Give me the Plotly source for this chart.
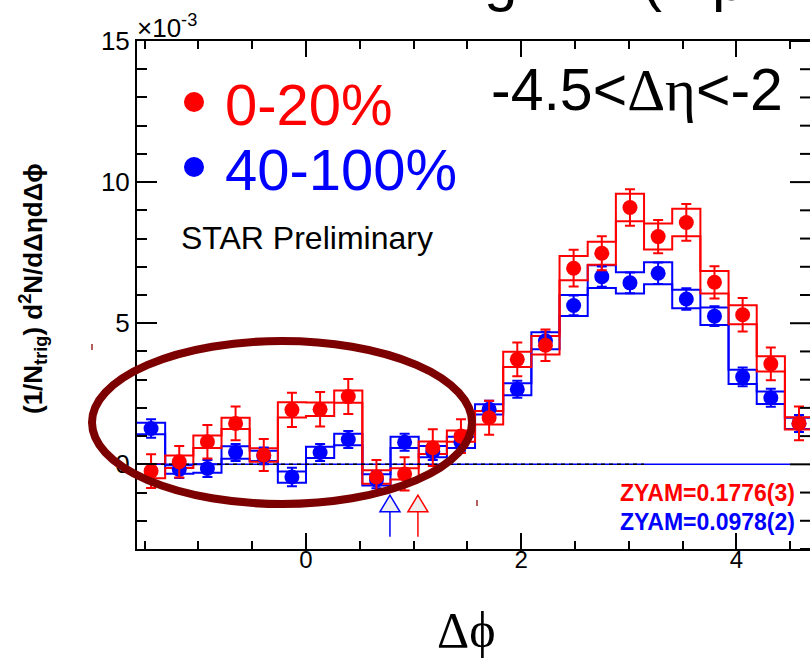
import numpy as np
import plotly.graph_objects as go

# Δφ binning: 24 bins spanning [-π/2, 3π/2]
n_bins = 24
phi_lo, phi_hi = -np.pi / 2, 3 * np.pi / 2
bin_w = (phi_hi - phi_lo) / n_bins
edges = phi_lo + bin_w * np.arange(n_bins + 1)
centers = 0.5 * (edges[:-1] + edges[1:])

# per-trigger associated yield (units of 1e-3), -4.5 < Δη < -2
central_label = "0-20%"
central_y = [-0.24, 0.09, 0.80, 1.45, 0.33, 1.93, 1.95, 2.40, -0.45, -0.34, 0.59, 1.00,
             1.65, 3.72, 4.22, 6.95, 7.48, 9.10, 8.07, 8.57, 6.45, 5.30, 3.56, 1.45]
central_stat = [0.60, 0.56, 0.59, 0.60, 0.57, 0.61, 0.61, 0.62, 0.60, 0.59, 0.65, 0.60,
                0.60, 0.60, 0.56, 0.65, 0.60, 0.65, 0.59, 0.65, 0.57, 0.59, 0.58, 0.60]
central_sys = [0.25, 0.22, 0.22, 0.20, 0.24, 0.27, 0.24, 0.22, 0.24, 0.20, 0.22, 0.20,
               0.24, 0.27, 0.33, 0.43, 0.41, 0.49, 0.46, 0.49, 0.40, 0.34, 0.27, 0.22]

periph_label = "40-100%"
periph_y = [1.27, -0.18, -0.15, 0.42, 0.30, -0.45, 0.42, 0.88, -0.55, 0.78, 0.45, 0.78,
            1.95, 2.66, 4.38, 5.63, 6.65, 6.43, 6.77, 5.86, 5.25, 3.10, 2.36, 1.45]
periph_stat = [0.33, 0.30, 0.30, 0.30, 0.30, 0.33, 0.30, 0.30, 0.30, 0.30, 0.30, 0.30,
               0.30, 0.30, 0.32, 0.35, 0.36, 0.37, 0.38, 0.38, 0.35, 0.33, 0.32, 0.30]
periph_sys = [0.20, 0.15, 0.15, 0.22, 0.18, 0.20, 0.20, 0.20, 0.20, 0.20, 0.20, 0.20,
              0.18, 0.21, 0.30, 0.37, 0.40, 0.38, 0.39, 0.33, 0.31, 0.25, 0.22, 0.20]

zyam_text = ["ZYAM=0.1776(3)", "ZYAM=0.0978(2)"]
# ZYAM minimum positions (peripheral, central)
zyam_arrow_x = [0.78, 1.04]

y_lo, y_hi = -3, 15
RED, BLUE = "#ff0000", "#0000ff"
SANS = "Liberation Sans, Arial, sans-serif"
SERIF = "Liberation Serif, Times New Roman, serif"

W, H = 810, 658
L, R, T, B = 137, 0, 41, 109
px_per_unit = 107.6
plot_w = W - L - R


def px(xp):
    return (xp - L) / plot_w


def py(yp):
    return (H - B - yp) / (H - T - B)


def step_outline(vals):
    """Histogram-style outline through bin edges."""
    return list(edges), list(vals) + [vals[-1]]


fig = go.Figure()

# systematic bands: upper and lower histogram outlines
for y, s, c in [(periph_y, periph_sys, BLUE), (central_y, central_sys, RED)]:
    for sign in (1, -1):
        band = [v + sign * d for v, d in zip(y, s)]
        sx, sy = step_outline(band)
        fig.add_trace(go.Scatter(x=sx, y=sy, mode="lines", line_shape="hv",
                                 line=dict(color=c, width=2), hoverinfo="skip"))

# zero reference lines
fig.add_trace(go.Scatter(x=[phi_lo, 4.5], y=[0, 0], mode="lines",
                         line=dict(color=BLUE, width=1.5), hoverinfo="skip"))
fig.add_trace(go.Scatter(x=[phi_lo, np.pi], y=[0, 0], mode="lines",
                         line=dict(color="black", width=1.5, dash="4px,4px"), hoverinfo="skip"))

# data points with statistical errors
for y, e, c, name in [(periph_y, periph_stat, BLUE, periph_label),
                      (central_y, central_stat, RED, central_label)]:
    fig.add_trace(go.Scatter(
        x=centers, y=y, mode="markers", name=name,
        marker=dict(color=c, size=15, symbol="circle"),
        error_y=dict(type="data", array=e, visible=True, color=c, thickness=2, width=5),
    ))

shapes = []
# right-hand frame ticks (the frame edge itself lies just outside the canvas)
for v in range(y_lo, y_hi + 1):
    tl = 20 if v % 5 == 0 else 10
    shapes.append(dict(type="line", xref="paper", yref="y", x0=1 - tl / plot_w, x1=1,
                       y0=v, y1=v, line=dict(color="black", width=2)))

# ZYAM arrows
for xa, c in zip(zyam_arrow_x, [BLUE, RED]):
    hw = 10 / px_per_unit
    shapes.append(dict(type="path", xref="x", yref="y",
                       path=f"M {xa},-1.09 L {xa - hw},-1.68 L {xa + hw},-1.68 Z",
                       fillcolor="#eeeeee", line=dict(color=c, width=1.5), layer="above"))
    shapes.append(dict(type="line", xref="x", yref="y", x0=xa, x1=xa, y0=-1.68, y1=-2.57,
                       line=dict(color=c, width=1.5), layer="above"))

# highlighted near-side region
shapes.append(dict(type="circle", xref="paper", yref="paper",
                   x0=px(92), x1=px(472), y0=py(504), y1=py(341),
                   line=dict(color="#7d0000", width=8), layer="above"))
for xp_, yp_ in [(92, 347), (477, 503)]:
    shapes.append(dict(type="line", xref="paper", yref="paper",
                       x0=px(xp_), x1=px(xp_), y0=py(yp_ - 3), y1=py(yp_ + 3),
                       line=dict(color="#9a2a2a", width=1.5), layer="above"))

ann = []


def text(x, y, s, size, color="black", family=SANS, xanchor="left", yanchor="middle", **kw):
    ann.append(dict(x=px(x), y=py(y), xref="paper", yref="paper", text=s, showarrow=False,
                    xanchor=xanchor, yanchor=yanchor,
                    font=dict(family=family, size=size, color=color), **kw))


# slide heading running off the top edge
for xc, glyph in [(500, "g"), (652, "("), (728, "p")]:
    text(xc, -21, glyph, 60, xanchor="center")

# legend
shapes.append(dict(type="circle", xref="paper", yref="paper", x0=px(184), x1=px(204),
                   y0=py(112), y1=py(92), fillcolor=RED, line=dict(width=0)))
shapes.append(dict(type="circle", xref="paper", yref="paper", x0=px(184), x1=px(204),
                   y0=py(177), y1=py(157), fillcolor=BLUE, line=dict(width=0)))
text(223, 104, central_label, 58, RED)
text(223, 169, periph_label, 58, BLUE)
text(179, 238, "STAR Preliminary", 32)
text(489, 90, "-4.5<<span style='font-family:Liberation Serif'>Δη</span><-2", 59)
text(797, 493, f"<b>{zyam_text[0]}</b>", 23, RED, xanchor="right")
text(797, 522, f"<b>{zyam_text[1]}</b>", 23, BLUE, xanchor="right")
text(135, 26, "×10<sup>-3</sup>", 26)
text(33, 289, "<b>(1/N<sub>trig</sub>) d<sup>2</sup>N/dΔηdΔϕ</b>", 26, xanchor="center",
     textangle=-90)
text(466, 630, "Δϕ", 50, family=SERIF, xanchor="center")

fig.update_layout(
    width=W, height=H, margin=dict(l=L, r=R, t=T, b=B),
    plot_bgcolor="white", paper_bgcolor="white", showlegend=False,
    shapes=shapes, annotations=ann,
)
fig.update_xaxes(
    range=[phi_lo, phi_lo + plot_w / px_per_unit],
    tick0=0, dtick=2, ticks="inside", ticklen=16, tickwidth=2, tickcolor="black",
    showline=True, linewidth=2, linecolor="black", mirror="ticks",
    minor=dict(tick0=0, dtick=0.5, ticks="inside", ticklen=8, tickwidth=2, tickcolor="black"),
    showgrid=False, zeroline=False, ticklabelstandoff=-12,
    tickfont=dict(family=SANS, size=24, color="black"),
)
fig.update_yaxes(
    range=[y_lo, y_hi], tick0=0, dtick=5, ticks="inside", ticklen=20, tickwidth=2,
    tickcolor="black", showline=True, linewidth=2, linecolor="black", mirror=False,
    minor=dict(tick0=0, dtick=1, ticks="inside", ticklen=10, tickwidth=2, tickcolor="black"),
    showgrid=False, zeroline=False,
    tickfont=dict(family=SANS, size=26, color="black"),
)

fig.write_html("out.html")
